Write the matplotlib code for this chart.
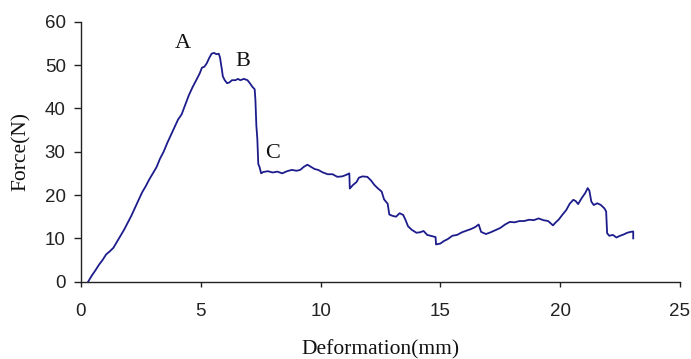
import matplotlib
matplotlib.use("Agg")
import matplotlib.pyplot as plt

# Force-deformation record of the specimen (mm, N)
deformation = [
    0.30, 0.45, 0.60, 0.75, 0.90, 1.05, 1.20, 1.35, 1.50, 1.65, 1.80, 1.95,
    2.10, 2.25, 2.40, 2.55, 2.70, 2.85, 3.00, 3.15, 3.30, 3.45, 3.60, 3.75,
    3.90, 4.05, 4.20, 4.35, 4.50, 4.65, 4.80, 4.95, 5.05, 5.15, 5.25, 5.35,
    5.45, 5.55, 5.65,
    5.75, 5.80, 5.88, 5.92, 6.00, 6.10, 6.20, 6.30, 6.45, 6.55, 6.65, 6.80,
    6.95, 7.05, 7.15, 7.25, 7.28, 7.32, 7.36, 7.38, 7.40, 7.45, 7.52,
    7.60, 7.80, 8.00, 8.20, 8.40, 8.60, 8.80, 9.00, 9.15, 9.30, 9.45, 9.60,
    9.75, 9.90, 10.10, 10.30, 10.50, 10.70, 10.90, 11.05, 11.20, 11.22, 11.35,
    11.50, 11.60, 11.75, 11.95, 12.10, 12.25, 12.40, 12.55, 12.65, 12.80,
    12.87, 13.00, 13.15, 13.30, 13.45, 13.55, 13.65, 13.80, 14.00, 14.15,
    14.30, 14.45, 14.65, 14.80, 14.82, 15.00, 15.15, 15.30, 15.50, 15.70,
    15.90, 16.10, 16.30, 16.45, 16.60, 16.70, 16.90, 17.10, 17.30, 17.50,
    17.70, 17.90, 18.10, 18.30, 18.50, 18.70, 18.90, 19.10, 19.30, 19.50,
    19.60, 19.70, 19.80, 19.95, 20.10, 20.25, 20.40, 20.55, 20.65, 20.75,
    20.90, 21.05, 21.15, 21.22, 21.30, 21.40, 21.55, 21.70, 21.85, 21.92,
    21.96, 22.05, 22.20, 22.35, 22.50, 22.65, 22.80, 22.95, 23.05, 23.05,
]
force = [
    0.0, 1.4, 2.6, 3.9, 5.0, 6.3, 7.0, 7.8, 9.2, 10.6, 12.0, 13.6,
    15.2, 17.0, 18.8, 20.6, 22.0, 23.6, 25.0, 26.4, 28.4, 30.0, 32.0, 33.8,
    35.6, 37.4, 38.6, 40.8, 43.0, 44.8, 46.4, 48.0, 49.4, 49.6, 50.4, 51.6,
    52.6, 52.8, 52.5,
    52.6, 51.8, 49.0, 47.4, 46.5, 45.8, 46.0, 46.5, 46.5, 46.8, 46.5, 46.8,
    46.5, 45.8, 45.0, 44.4, 42.0, 36.0, 33.0, 30.0, 27.2, 26.5, 25.0,
    25.3, 25.5, 25.2, 25.4, 25.0, 25.5, 25.8, 25.6, 25.8, 26.5, 27.0, 26.5,
    26.0, 25.8, 25.2, 24.8, 24.8, 24.2, 24.3, 24.6, 25.0, 21.5, 22.3,
    23.0, 24.0, 24.3, 24.2, 23.4, 22.3, 21.5, 20.8, 19.0, 18.0,
    15.5, 15.2, 15.0, 15.8, 15.4, 14.2, 12.8, 12.0, 11.3, 11.4,
    11.7, 10.8, 10.5, 10.3, 8.6, 8.8, 9.4, 9.8, 10.6, 10.8,
    11.4, 11.8, 12.2, 12.6, 13.2, 11.5, 11.0, 11.4, 11.9, 12.4,
    13.2, 13.8, 13.7, 14.0, 14.0, 14.3, 14.2, 14.6, 14.2, 14.0,
    13.5, 13.0, 13.6, 14.4, 15.5, 16.5, 18.0, 18.9, 18.6, 17.9,
    19.3, 20.5, 21.6, 21.0, 18.5, 17.7, 18.1, 17.7, 16.9, 16.2,
    11.2, 10.6, 10.8, 10.2, 10.6, 10.9, 11.3, 11.5, 11.6, 10.0,
]

# Stage markers on the curve
stage_labels = ["A", "B", "C"]
stage_x = [4.25, 6.75, 8.0]
stage_y = [54.9, 50.7, 29.5]

x_ticks = [0, 5, 10, 15, 20, 25]
y_ticks = [0, 10, 20, 30, 40, 50, 60]

fig = plt.figure(figsize=(6.91, 3.59), dpi=100)
ax = fig.add_axes([0.1172, 0.2153, 0.8668, 0.7243])

ax.plot(deformation, force, color="#1c1c8c", linewidth=1.3)

for lab, lx, ly in zip(stage_labels, stage_x, stage_y):
    ax.text(lx, ly, lab, fontsize=16, family="Liberation Serif",
            ha="center", va="center", color="#111111")

ax.set_xlim(0, 25)
ax.set_ylim(0, 60)
ax.set_xticks(x_ticks)
ax.set_yticks(y_ticks)

for s in ("top", "right"):
    ax.spines[s].set_visible(False)
for s in ("left", "bottom"):
    ax.spines[s].set_linewidth(1.0)
    ax.spines[s].set_color("#222222")

ax.tick_params(axis="x", direction="out", length=3.6, width=1.0, pad=12,
               labelsize=13.5, colors="#222222")
ax.tick_params(axis="y", direction="out", length=5, width=1.0, pad=6,
               labelsize=13.5, colors="#222222")
for lbl in ax.get_xticklabels() + ax.get_yticklabels():
    lbl.set_family("Liberation Sans")

ax.set_xlabel("Deformation(mm)", fontsize=15.5, family="Liberation Serif",
              color="#111111")
ax.set_ylabel("Force(N)", fontsize=15.5, family="Liberation Serif",
              color="#111111")
ax.xaxis.set_label_coords(0.5, -0.225)
ax.yaxis.set_label_coords(-0.083, 0.5)

fig.savefig("out.png", dpi=100)
